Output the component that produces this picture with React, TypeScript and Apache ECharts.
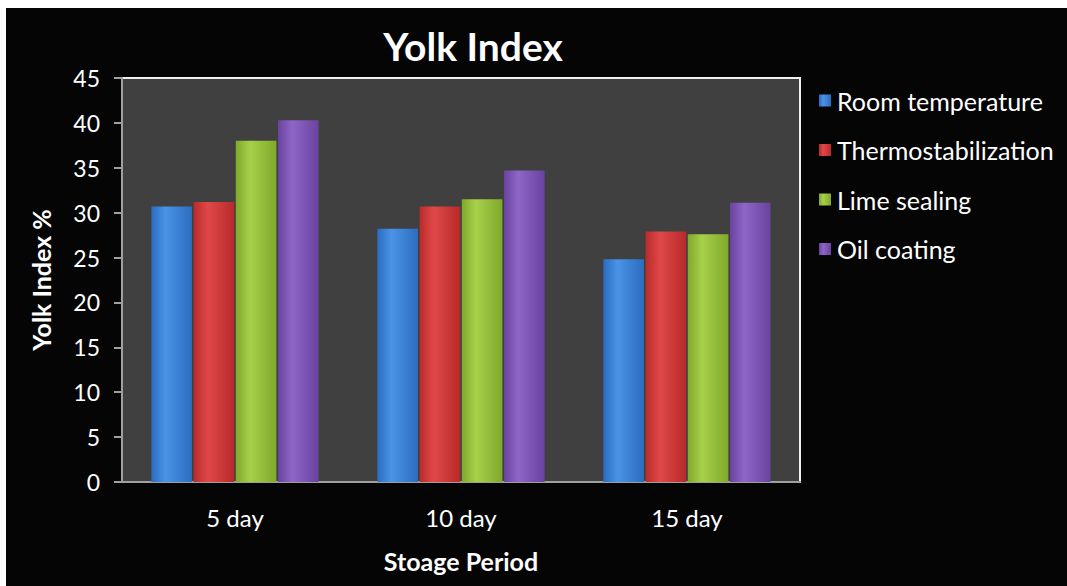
import React, { useEffect, useRef } from "react";
import * as echarts from "echarts";

const categories = ["5 day", "10 day", "15 day"];
const seriesNames = ["Room temperature", "Thermostabilization", "Lime sealing", "Oil coating"];
const roomTemp = [30.7, 28.2, 24.8];
const thermo = [31.2, 30.7, 27.9];
const lime = [38.0, 31.5, 27.6];
const oil = [40.3, 34.7, 31.1];
const yTicks = [0, 5, 10, 15, 20, 25, 30, 35, 40, 45];

const FONT = "Lato, 'Open Sans', sans-serif";

const colors = [
  ["#2a6cc0", "#4a93e6", "#2c6dbf"],
  ["#b92b2b", "#e04848", "#b72a2a"],
  ["#7fa82d", "#a8d04a", "#80a92c"],
  ["#6a43a0", "#8e66c7", "#6a429f"],
];

function grad(c: string[]) {
  return new echarts.graphic.LinearGradient(0, 0, 1, 0, [
    { offset: 0, color: c[0] },
    { offset: 0.35, color: c[1] },
    { offset: 1, color: c[2] },
  ]);
}

export default function App() {
  const ref = useRef<HTMLDivElement>(null);
  useEffect(() => {
    if (!ref.current) return;
    const chart = echarts.init(ref.current, undefined, { renderer: "svg" });
    const data = [roomTemp, thermo, lime, oil];
    chart.setOption({
      animation: false,
      backgroundColor: "#050505",
      title: {
        text: "Yolk Index",
        left: 462,
        top: 13,
        textAlign: "center",
        textStyle: { color: "#ffffff", fontSize: 39, fontWeight: "bold", fontFamily: FONT },
      },
      legend: {
        orient: "vertical",
        left: 808,
        top: 75,
        itemWidth: 12,
        itemHeight: 12,
        itemGap: 24.5,
        icon: "rect",
        data: seriesNames,
        textStyle: { color: "#ffffff", fontSize: 25, lineHeight: 24, fontFamily: FONT, padding: [0, 0, 0, 1] },
      },
      grid: {
        left: 116,
        top: 70,
        width: 678,
        height: 404,
        show: true,
        outerBoundsMode: "none",
        containLabel: false,
        backgroundColor: "#404040",
        borderColor: "#f0f0f0",
        borderWidth: 2,
      },
      xAxis: {
        type: "category",
        data: categories,
        name: "Stoage Period",
        nameLocation: "middle",
        nameGap: 66,
        nameTextStyle: { color: "#ffffff", fontSize: 25, fontWeight: "bold", fontFamily: FONT },
        axisLine: { lineStyle: { color: "#a0a0a0", width: 2 } },
        axisTick: { show: false },
        axisLabel: { color: "#ffffff", fontSize: 24, fontFamily: FONT, margin: 23 },
      },
      yAxis: {
        type: "value",
        min: 0,
        max: 45,
        interval: 5,
        name: "Yolk Index %",
        nameLocation: "middle",
        nameGap: 69,
        nameTextStyle: { color: "#ffffff", fontSize: 25, fontWeight: "bold", fontFamily: FONT },
        axisLine: { show: true, lineStyle: { color: "#a0a0a0", width: 2 } },
        axisTick: { show: true, length: 8, lineStyle: { color: "#a0a0a0", width: 2 } },
        splitLine: { show: false },
        axisLabel: {
          color: "#ffffff",
          fontSize: 23,
          fontFamily: FONT,
          margin: 22,
          formatter: (v: number) => (yTicks.includes(v) ? String(v) : ""),
        },
      },
      series: seriesNames.map((name, i) => ({
        name,
        type: "bar",
        data: data[i],
        barGap: "4%",
        barCategoryGap: "26%",
        itemStyle: { color: grad(colors[i]) },
      })),
      color: colors.map((c) => c[1]),
    });
    return () => chart.dispose();
  }, []);
  return (
    <div
      ref={ref}
      style={{ position: "fixed", left: 6, top: 8, width: 1061, height: 578 }}
    />
  );
}
